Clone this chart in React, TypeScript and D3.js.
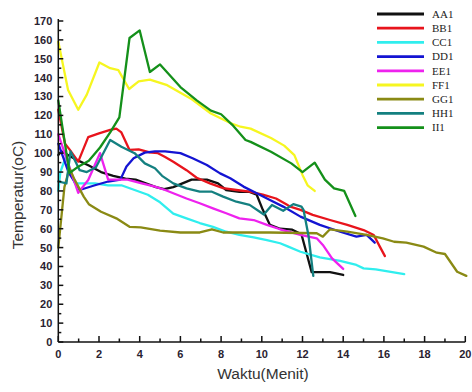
import React from "react";
import * as d3 from "d3";

type P = [number, number];

const seriesNames = ["AA1", "BB1", "CC1", "DD1", "EE1", "FF1", "GG1", "HH1", "II1"];
const seriesColors = ["#111111", "#e8141c", "#30eeee", "#1414d2", "#ee22ee", "#f6f620", "#8a8a14", "#148080", "#14901a"];

const AA1: P[] = [[0,99],[0.15,101],[0.8,97],[1.5,93.5],[2.1,90],[2.7,88],[3.3,86.5],[3.8,86],[4.3,84],[4.8,82],[5.2,81],[5.65,82],[6.1,84],[6.55,86],[7.3,86],[7.85,84],[8.25,80.5],[8.9,79.5],[9.4,79.5],[9.75,78],[10.05,70],[10.4,62],[10.9,60],[11.5,59.5],[11.95,57],[12.2,47],[12.45,37],[13.35,37],[14.0,35.5]];
const BB1: P[] = [[0,123],[0.33,105],[0.55,102],[0.98,95.5],[1.47,108.5],[2.0,110.5],[2.55,112.3],[2.85,113],[3.1,111],[3.5,101.7],[3.95,102],[4.45,100.5],[4.9,100],[5.25,98],[5.65,95.5],[6.3,91],[6.8,87],[7.45,84],[8.1,81.5],[8.75,80.5],[9.4,79.6],[10.05,78],[10.7,76],[11.2,73],[11.4,71.7],[11.9,70],[12.5,67.3],[13.35,64.6],[14.2,62],[15.0,59.3],[15.5,56.7],[15.8,50.5],[16.05,45.5]];
const CC1: P[] = [[0,80],[0.1,90],[0.4,99],[0.6,90],[0.82,84],[1.15,84],[1.8,84],[2.45,83],[3.1,83],[3.75,80.5],[4.4,78],[5.0,74],[5.65,68],[6.3,65.5],[6.95,63],[7.6,61],[8.25,58.4],[8.9,56.7],[9.6,55.4],[10.25,54],[10.9,52.3],[11.3,50.5],[11.9,47.8],[12.85,44.8],[13.85,43],[14.65,40.8],[15.0,39],[15.6,38.5],[17.0,36]];
const DD1: P[] = [[0,105],[0.5,90],[1.05,80.5],[1.8,83],[2.45,85],[3.05,86],[3.35,93],[3.7,97.3],[4.25,100.3],[4.75,101],[5.25,101],[6.0,100],[6.6,97.3],[7.3,93.7],[7.95,89.3],[8.45,86.7],[9.1,82.3],[9.75,78.8],[10.4,75.2],[11.05,71.7],[11.9,66.4],[12.85,62],[13.85,58.4],[14.65,55.8],[15.15,56.7],[15.55,52.6]];
const EE1: P[] = [[0,110],[0.98,79],[1.47,85.8],[2.05,100],[2.45,86],[3.0,86],[3.4,86],[4.1,84],[4.75,82.3],[5.25,80.5],[5.65,78.8],[6.3,76],[6.95,73.5],[7.6,70.8],[8.25,68.2],[8.9,65.5],[9.6,64.6],[10.25,62],[10.9,59.7],[11.9,56.7],[12.7,54.9],[13.0,51.4],[13.45,44.3],[14.0,38.7]];
const FF1: P[] = [[0,159],[0.48,133.5],[0.98,123],[1.4,131],[2.02,148],[2.55,145],[2.95,144],[3.48,134],[3.95,138],[4.5,139],[5.35,136],[6.5,129],[7.5,121],[8.45,116],[8.95,114],[9.45,113],[10.45,108],[11.1,104],[11.6,99],[12.0,88.5],[12.25,83],[12.6,80]];
const GG1: P[] = [[0,50],[0.3,82],[0.55,92],[0.8,86],[1.25,77],[1.5,73],[2.1,69],[2.85,65.5],[3.5,61],[4.05,60.7],[5.0,59],[6.0,58],[6.95,58],[7.55,59.7],[8.1,58],[10.4,58],[12.7,57.6],[13.0,55.8],[13.35,59.7],[14.2,58.4],[15.15,56.7],[15.95,54.9],[16.5,53.1],[17.1,52.6],[17.95,50.5],[18.6,47.3],[19.0,46.6],[19.6,37.2],[20.05,35]];
const HH1: P[] = [[0,85],[0.4,84],[0.6,101],[1.05,91],[1.4,90],[1.85,92.5],[2.55,107],[3.1,103.4],[3.75,100],[4.25,94.6],[4.75,92],[5.1,88],[5.65,84],[6.3,81.4],[6.95,79.6],[7.55,79.6],[8.1,77],[8.75,74.3],[9.4,72.6],[9.9,69],[10.1,67.5],[10.5,72.6],[11.05,69.5],[11.55,73],[11.95,71.7],[12.05,70],[12.3,56],[12.53,35]];
const II1: P[] = [[0,128],[0.55,89.5],[1.0,93],[1.5,96],[2.05,103],[2.55,111],[3.0,119],[3.5,161],[4.0,165],[4.5,143],[5.0,147],[6.0,135],[6.8,128],[7.5,122.5],[8.0,120.6],[8.55,115],[9.2,107],[9.45,106],[10.45,100.8],[11.45,94.6],[12.0,90],[12.6,95],[13.1,86],[13.55,81.4],[14.05,80],[14.6,66.7]];

const seriesData: P[][] = [AA1, BB1, CC1, DD1, EE1, FF1, GG1, HH1, II1];

const xMajorTicks = [0, 2, 4, 6, 8, 10, 12, 14, 16, 18, 20];
const xMinorTicks = [1, 3, 5, 7, 9, 11, 13, 15, 17, 19];
const yMajorTicks = d3.range(0, 171, 10);
const yMinorTicks = d3.range(5, 170, 10);

const W = 472;
const H = 392;

export default function App() {
  const x = d3.scaleLinear().domain([0, 20]).range([58.3, 465.3]);
  const y = d3.scaleLinear().domain([0, 170]).range([342, 21]);
  const line = d3
    .line<P>()
    .x((d) => x(d[0]))
    .y((d) => y(d[1]));

  const labelFont = "'Liberation Sans', Arial, sans-serif";
  const x0 = x(0);
  const yb = y(0);

  return (
    <svg
      width={W}
      height={H}
      style={{ position: "absolute", left: 0, top: 0, background: "#fff" }}
    >
      <rect x={0} y={0} width={W} height={H} fill="#fff" />
      {/* series */}
      <g fill="none" strokeWidth={2.3} strokeLinejoin="round" strokeLinecap="round">
        {seriesData.map((d, i) => (
          <path key={seriesNames[i]} d={line(d) || ""} stroke={seriesColors[i]} />
        ))}
      </g>
      {/* axes */}
      <g stroke="#111" strokeWidth={1.5}>
        <line x1={x0} x2={x0} y1={19} y2={yb} />
        <line x1={x0} x2={x(20)} y1={yb} y2={yb} />
        {yMajorTicks.map((v) => (
          <line key={"ym" + v} x1={x0} x2={x0 + 5} y1={y(v)} y2={y(v)} />
        ))}
        {yMinorTicks.map((v) => (
          <line key={"yn" + v} x1={x0} x2={x0 + 3} y1={y(v)} y2={y(v)} />
        ))}
        {xMajorTicks.map((v) => (
          <line key={"xm" + v} x1={x(v)} x2={x(v)} y1={yb} y2={yb - 6} />
        ))}
        {xMinorTicks.map((v) => (
          <line key={"xn" + v} x1={x(v)} x2={x(v)} y1={yb} y2={yb - 3.5} />
        ))}
      </g>
      <g fontFamily={labelFont} fontWeight="bold" fontSize={11} fill="#2a2230">
        {yMajorTicks.map((v) => (
          <text key={"yl" + v} x={x0 - 6} y={y(v)} dy="0.36em" textAnchor="end">
            {v}
          </text>
        ))}
        {xMajorTicks.map((v) => (
          <text key={"xl" + v} x={x(v)} y={yb + 16} textAnchor="middle">
            {v}
          </text>
        ))}
      </g>
      <text
        x={263}
        y={379}
        textAnchor="middle"
        fontFamily={labelFont}
        fontSize={15.5}
        fill="#333"
      >
        Waktu(Menit)
      </text>
      <text
        transform="translate(23,195) rotate(-90)"
        textAnchor="middle"
        fontFamily={labelFont}
        fontSize={15.5}
        fill="#333"
      >
        Temperatur(oC)
      </text>
      {/* legend */}
      <g>
        {seriesNames.map((n, i) => {
          const ly = 14 + i * 14.2;
          return (
            <g key={"lg" + n}>
              <line x1={377} x2={424} y1={ly} y2={ly} stroke={seriesColors[i]} strokeWidth={2.8} />
              <text
                x={432}
                y={ly}
                dy="0.35em"
                fontFamily="'Liberation Serif', 'Times New Roman', serif"
                fontSize={11}
                fill="#222"
              >
                {n}
              </text>
            </g>
          );
        })}
      </g>
    </svg>
  );
}
